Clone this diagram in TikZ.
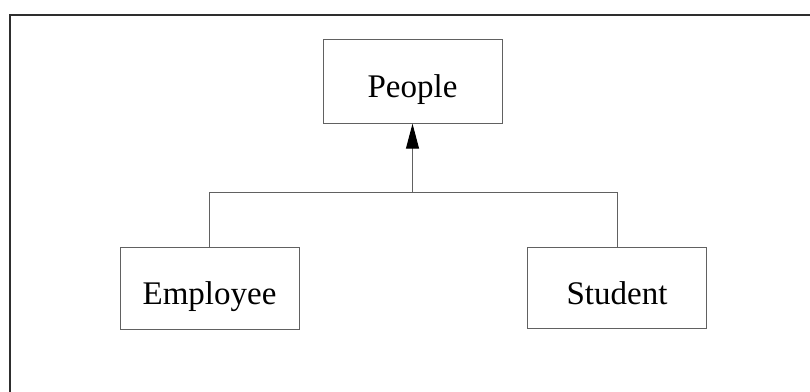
\documentclass[tikz,border=0pt]{standalone}
\usepackage{fontspec}
\setmainfont{Liberation Serif}
\usetikzlibrary{arrows.meta}
\begin{document}
\begin{tikzpicture}[x=1pt,y=-1pt,
  classbox/.style={draw=black!62, line width=1pt, fill=white,
    minimum width=179pt, inner sep=0pt, text height=32pt, text depth=0pt,
    font=\fontsize{33}{40}\selectfont},
  link/.style={draw=black!62, line width=1pt},
  frameline/.style={draw=black!82, line width=2pt}]
  \useasboundingbox[fill=white] (0,0) rectangle (810,391);

  % cropped page frame: only top and left edges are visible
  \coordinate (fc) at (9.5,14.5);
  \coordinate (fr) at (811,14.5);
  \coordinate (fb) at (9.5,392);
  \draw[frameline] (fr) -- (fc) -- (fb);

  % classes
  \node[classbox, minimum height=84pt] (people) at (412.5,81.2) {People};
  \node[classbox, minimum height=82pt] (employee) at (209.5,288.5) {Employee};
  \node[classbox, minimum height=81pt] (student) at (617,288) {Student};

  % generalisation connector
  \coordinate (join) at (412.5,192.5);
  \draw[link] (employee.north) |- (join) -| (student.north);
  \draw[link, -{Triangle[length=25pt,width=13pt,color=black]}] (join) -- (people.south);
\end{tikzpicture}
\end{document}
